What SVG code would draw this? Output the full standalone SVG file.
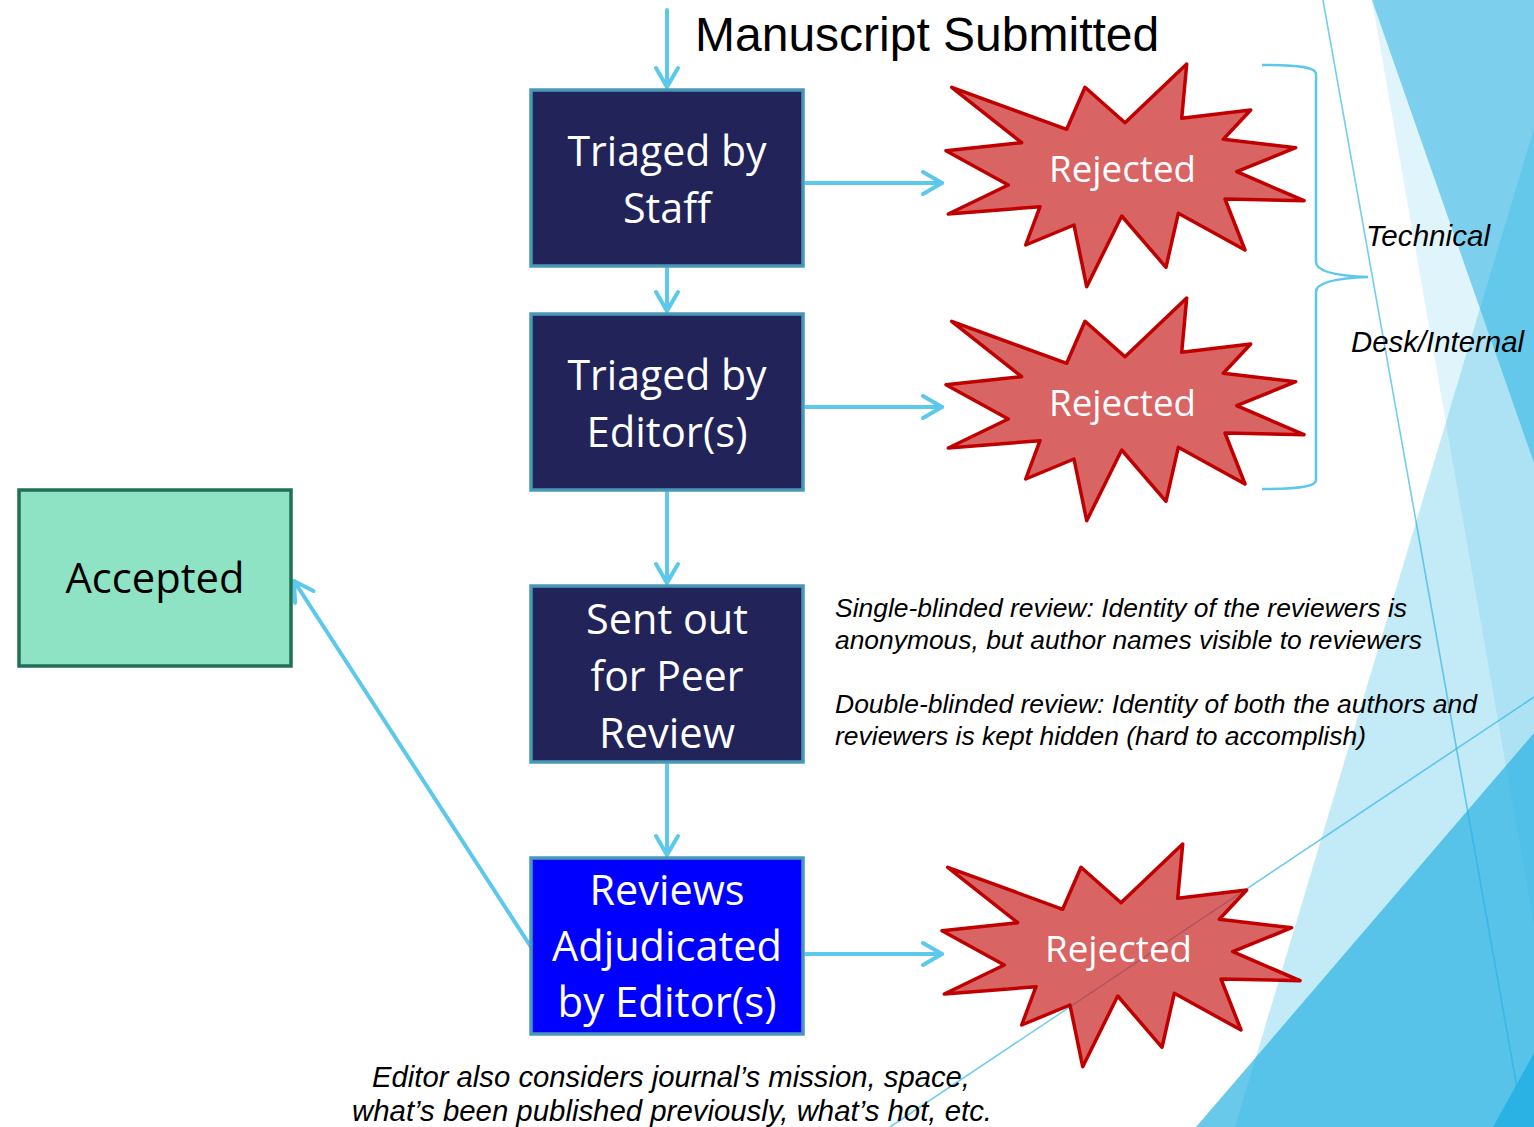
<svg xmlns="http://www.w3.org/2000/svg" xmlns:xlink="http://www.w3.org/1999/xlink" width="1534" height="1127" viewBox="0 0 1534 1127">
<style>
.bg{fill:#29b2e3}
.thin{stroke:#29b2e3;stroke-opacity:.65;stroke-width:1.6;fill:none}
.box{fill:#212359;stroke:#4a98b8;stroke-width:3.5}
.boxb{fill:#0000ff;stroke:#4a98b8;stroke-width:3.5}
.acc{fill:#8fe3c5;stroke:#207055;stroke-width:3.5}
.star{fill:#d96464;stroke:#c00000;stroke-width:3.5;stroke-linejoin:round}
.bt{font-family:"Open Sans","Noto Sans",sans-serif;font-size:42px;fill:#ffffff;text-anchor:middle}
.rt{font-family:"Open Sans","Noto Sans",sans-serif;font-size:36px;fill:#ffffff;text-anchor:middle}
.at{font-family:"Open Sans","Noto Sans",sans-serif;font-size:42px;fill:#000000;text-anchor:middle}
.it{font-family:"Liberation Sans",Arial,sans-serif;font-style:italic;fill:#000000}
.conn{stroke:#5bc8ec;stroke-width:4;fill:none;stroke-linecap:round}
.brace{stroke:#5bc8ec;stroke-width:2.5;fill:none}
</style>
<defs>
<marker id="ah" markerUnits="userSpaceOnUse" viewBox="-26 -16 30 32" refX="0" refY="0" markerWidth="30" markerHeight="32" orient="auto">
<path d="M-19,-11 L0,0 L-19,11" fill="none" stroke="#5bc8ec" stroke-width="4" stroke-linecap="round" stroke-linejoin="round"/>
</marker>
<polygon id="starShape" points="951.7,87.3 1066.7,129.3 1085,87.3 1125,122.7 1186.7,64 1181.7,118.3 1250.7,110 1223.3,139.3 1295.7,147.7 1236.7,171.7 1304,200.7 1225,199 1245,250 1178.3,213.3 1166,267.3 1121.7,216 1086.7,286.7 1074,225 1025.7,245 1040,206.7 948.3,214 1008.3,185 946,150.7 1021.7,142.7"/>
<clipPath id="clip3"><use xlink:href="#starShape" href="#starShape" transform="translate(-4,780)"/></clipPath>
</defs>

<g id="background">
<polygon class="bg" fill-opacity="0.15" points="1372,0 1534,0 1534,926"/>
<polygon class="bg" fill-opacity="0.28" points="1534,128 1534,1127 1235,1127"/>
<polygon class="bg" fill-opacity="0.55" points="1372,0 1534,0 1534,463"/>
<polygon class="bg" fill-opacity="0.7" points="1196,1127 1534,733 1534,1127"/>
<polygon class="bg" points="1493,1127 1534,1053 1534,1127"/>
<line class="thin" x1="1323" y1="0" x2="1524" y2="1127"/>
<line class="thin" x1="890" y1="1127" x2="1534" y2="697"/>
</g>

<text class="it" x="695" y="51" style="font-style:normal;font-size:48px">Manuscript Submitted</text>

<g id="connectors">
<line class="conn" x1="667" y1="10" x2="667" y2="87" marker-end="url(#ah)"/>
<line class="conn" x1="667" y1="268" x2="667" y2="311" marker-end="url(#ah)"/>
<line class="conn" x1="667" y1="492" x2="667" y2="583" marker-end="url(#ah)"/>
<line class="conn" x1="667" y1="764" x2="667" y2="855" marker-end="url(#ah)"/>
<line class="conn" x1="806" y1="183" x2="942" y2="183" marker-end="url(#ah)"/>
<line class="conn" x1="806" y1="407" x2="942" y2="407" marker-end="url(#ah)"/>
<line class="conn" x1="806" y1="954" x2="942" y2="954" marker-end="url(#ah)"/>
<line class="conn" x1="531" y1="947" x2="294" y2="581" marker-end="url(#ah)"/>
<path class="brace" d="M1262,65 C1290,65 1316,66 1316,74 L1316,262 C1316,272 1340,276 1368,277 C1340,278 1316,282 1316,292 L1316,480 C1316,488 1290,489 1262,489"/>
</g>

<g id="node-staff">
<rect class="box" x="531" y="90" width="272" height="176"/>
<text class="bt" x="667" y="166" textLength="199" lengthAdjust="spacingAndGlyphs">Triaged by</text>
<text class="bt" x="667" y="223" textLength="88" lengthAdjust="spacingAndGlyphs">Staff</text>
</g>
<g id="node-editor">
<rect class="box" x="531" y="314" width="272" height="176"/>
<text class="bt" x="667" y="390" textLength="199" lengthAdjust="spacingAndGlyphs">Triaged by</text>
<text class="bt" x="667" y="447" textLength="161" lengthAdjust="spacingAndGlyphs">Editor(s)</text>
</g>
<g id="node-peer">
<rect class="box" x="531" y="586" width="272" height="176"/>
<text class="bt" x="667" y="634" textLength="162" lengthAdjust="spacingAndGlyphs">Sent out</text>
<text class="bt" x="667" y="691" textLength="153" lengthAdjust="spacingAndGlyphs">for Peer</text>
<text class="bt" x="667" y="748" textLength="136" lengthAdjust="spacingAndGlyphs">Review</text>
</g>
<g id="node-adjudicated">
<rect class="boxb" x="531" y="858" width="272" height="176"/>
<text class="bt" x="667" y="905" textLength="155" lengthAdjust="spacingAndGlyphs">Reviews</text>
<text class="bt" x="667" y="961" textLength="230" lengthAdjust="spacingAndGlyphs">Adjudicated</text>
<text class="bt" x="667" y="1017" textLength="219" lengthAdjust="spacingAndGlyphs">by Editor(s)</text>
</g>
<g id="node-accepted">
<rect class="acc" x="19" y="490" width="272" height="176"/>
<text class="at" x="155" y="593" textLength="179" lengthAdjust="spacingAndGlyphs">Accepted</text>
</g>

<g id="node-rejected1">
<use class="star" xlink:href="#starShape" href="#starShape"/>
<text class="rt" x="1122.5" y="182" textLength="147" lengthAdjust="spacingAndGlyphs">Rejected</text>
</g>
<g id="node-rejected2">
<use class="star" xlink:href="#starShape" href="#starShape" transform="translate(0,234)"/>
<text class="rt" x="1122.5" y="416" textLength="147" lengthAdjust="spacingAndGlyphs">Rejected</text>
</g>
<g id="node-rejected3">
<use class="star" xlink:href="#starShape" href="#starShape" transform="translate(-4,780)"/>
<line x1="890" y1="1127" x2="1534" y2="697" stroke="#6a3a5a" stroke-opacity="0.35" stroke-width="1.5" clip-path="url(#clip3)"/>
<text class="rt" x="1118.5" y="962" textLength="147" lengthAdjust="spacingAndGlyphs">Rejected</text>
</g>

<g id="labels">
<text class="it" x="1366" y="246" font-size="29" textLength="124" lengthAdjust="spacingAndGlyphs">Technical</text>
<text class="it" x="1351" y="352" font-size="29" textLength="173" lengthAdjust="spacingAndGlyphs">Desk/Internal</text>
<text class="it" x="835" y="617" font-size="26" textLength="572" lengthAdjust="spacingAndGlyphs">Single-blinded review: Identity of the reviewers is</text>
<text class="it" x="835" y="649" font-size="26" textLength="587" lengthAdjust="spacingAndGlyphs">anonymous, but author names visible to reviewers</text>
<text class="it" x="835" y="713" font-size="26" textLength="642" lengthAdjust="spacingAndGlyphs">Double-blinded review: Identity of both the authors and</text>
<text class="it" x="835" y="745" font-size="26" textLength="531" lengthAdjust="spacingAndGlyphs">reviewers is kept hidden (hard to accomplish)</text>
<text class="it" x="372" y="1087" font-size="30" textLength="598" lengthAdjust="spacingAndGlyphs">Editor also considers journal’s mission, space,</text>
<text class="it" x="352" y="1121" font-size="30" textLength="640" lengthAdjust="spacingAndGlyphs">what’s been published previously, what’s hot, etc.</text>
</g>
</svg>
